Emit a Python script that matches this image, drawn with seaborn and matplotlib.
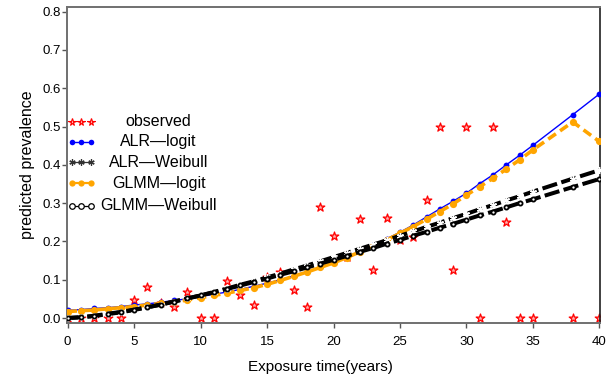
import matplotlib
matplotlib.use("Agg")
import matplotlib.pyplot as plt
import seaborn as sns
import pandas as pd

# ---------------- data ----------------
times = [0, 1, 2, 3, 4, 5, 6, 7, 8, 9, 10, 11, 12, 13, 14, 15, 16, 17, 18, 19,
         20, 21, 22, 23, 24, 25, 26, 27, 28, 29, 30, 31, 32, 33, 34, 35, 38, 40]

observed = [0.0, 0.0, 0.0, 0.0, 0.0, 0.048, 0.080, 0.040, 0.028, 0.069,
            0.0, 0.0, 0.097, 0.060, 0.034, 0.108, 0.120, 0.073, 0.028, 0.290,
            0.214, 0.160, 0.258, 0.125, 0.260, 0.205, 0.212, 0.308, 0.500, 0.125,
            0.500, 0.0, 0.500, 0.250, 0.0, 0.0, 0.0, 0.0]

alr_logit = [0.020, 0.022, 0.025, 0.027, 0.030, 0.034, 0.037, 0.041, 0.046, 0.050,
             0.056, 0.062, 0.068, 0.075, 0.083, 0.091, 0.100, 0.110, 0.121, 0.133,
             0.146, 0.159, 0.174, 0.190, 0.207, 0.224, 0.243, 0.264, 0.285, 0.305,
             0.326, 0.351, 0.374, 0.400, 0.425, 0.451, 0.531, 0.585]

alr_weibull = [0.000, 0.002, 0.005, 0.010, 0.015, 0.021, 0.028, 0.035, 0.043, 0.051,
               0.059, 0.068, 0.077, 0.087, 0.096, 0.106, 0.116, 0.127, 0.137, 0.148,
               0.159, 0.170, 0.181, 0.192, 0.203, 0.215, 0.226, 0.238, 0.249, 0.261,
               0.272, 0.284, 0.295, 0.307, 0.318, 0.330, 0.364, 0.386]

glmm_logit = [0.017, 0.019, 0.021, 0.024, 0.027, 0.030, 0.034, 0.038, 0.042, 0.047,
              0.053, 0.059, 0.065, 0.072, 0.079, 0.088, 0.098, 0.109, 0.120, 0.132,
              0.144, 0.158, 0.173, 0.188, 0.204, 0.221, 0.239, 0.258, 0.278, 0.298,
              0.321, 0.343, 0.365, 0.389, 0.413, 0.439, 0.512, 0.461]

glmm_weibull = [0.000, 0.002, 0.006, 0.011, 0.016, 0.022, 0.028, 0.035, 0.043, 0.051,
                0.059, 0.067, 0.076, 0.085, 0.094, 0.103, 0.113, 0.122, 0.132, 0.142,
                0.152, 0.162, 0.173, 0.183, 0.194, 0.204, 0.215, 0.225, 0.236, 0.246,
                0.257, 0.268, 0.278, 0.289, 0.300, 0.310, 0.342, 0.363]

legend_labels = ["observed", "ALR\u2014logit", "ALR\u2014Weibull",
                 "GLMM\u2014logit", "GLMM\u2014Weibull"]
x_ticks = [0, 5, 10, 15, 20, 25, 30, 35, 40]
y_ticks = [0.0, 0.1, 0.2, 0.3, 0.4, 0.5, 0.6, 0.7, 0.8]
x_label = "Exposure time(years)"
y_label = "predicted prevalence"

df = pd.DataFrame({"t": times, "obs": observed, "alr_logit": alr_logit,
                   "alr_weibull": alr_weibull, "glmm_logit": glmm_logit,
                   "glmm_weibull": glmm_weibull})

# ---------------- style ----------------
sns.set_theme(style="white")
plt.rcParams["font.family"] = ["Liberation Sans", "DejaVu Sans"]

fig = plt.figure(figsize=(6.11, 3.85), dpi=100)
ax = fig.add_axes([67 / 611, 62 / 385, 533 / 611, 316.3 / 385])

RED = "#ff0000"
BLUE = "#0000ff"
ORANGE = "#ffa500"

# observed stars
sns.scatterplot(data=df, x="t", y="obs", ax=ax, marker="*", s=42,
                facecolor="#ffb0b0", edgecolor=RED, linewidth=0.9, zorder=2)

# ALR-logit: blue solid with filled circles
sns.lineplot(data=df, x="t", y="alr_logit", ax=ax, color=BLUE, linewidth=1.0,
             marker="o", markersize=4.2, markeredgewidth=0, zorder=3)

# GLMM-logit: orange dashed with filled circles
sns.lineplot(data=df, x="t", y="glmm_logit", ax=ax, color=ORANGE, linewidth=2.6,
             linestyle=(0, (2.6, 1.4)), marker="o", markersize=5.2,
             markeredgewidth=0, zorder=4)

# ALR-Weibull: black dashed with asterisks
sns.lineplot(data=df, x="t", y="alr_weibull", ax=ax, color="black", linewidth=2.9,
             linestyle=(0, (3.8, 1.1)), marker=(6, 2, 0), markersize=5,
             markeredgewidth=1.0, zorder=5)

# GLMM-Weibull: black dashed with small open circles
sns.lineplot(data=df, x="t", y="glmm_weibull", ax=ax, color="black", linewidth=2.9,
             linestyle=(0, (3.8, 1.1)), marker="o", markersize=3.0,
             markerfacecolor="white", markeredgecolor="black",
             markeredgewidth=1.3, zorder=6)

# ---------------- axes ----------------
ax.set_xlim(-0.05, 40.05)
ax.set_ylim(-0.013, 0.813)
ax.set_xticks(x_ticks)
ax.set_xticklabels([str(v) for v in x_ticks])
ax.set_yticks(y_ticks)
ax.set_yticklabels([f"{v:.1f}" for v in y_ticks])
ax.tick_params(axis="both", which="major", direction="out", length=3.5,
               width=1.0, color="#555555", labelsize=9.5, labelcolor="black",
               left=True, bottom=True)
ax.tick_params(axis="y", pad=1)
ax.tick_params(axis="x", pad=6)

for side in ["left", "top", "bottom"]:
    ax.spines[side].set_color("#707070")
    ax.spines[side].set_linewidth(1.4)
ax.spines["right"].set_color("#202020")
ax.spines["right"].set_linewidth(1.2)

ax.set_xlabel(x_label, fontsize=11, color="black")
ax.set_ylabel(y_label, fontsize=11.5, color="black")
ax.xaxis.set_label_coords(0.475, -0.117)
ax.yaxis.set_label_coords(-0.06, 0.5)
ax.xaxis.label.set_va("top")

# ---------------- manual legend ----------------
row_y = [0.636, 0.573, 0.508, 0.442, 0.370]
mx = [0.0088, 0.0257, 0.0445]
text_x = 0.172
tr = ax.transAxes

styles = [
    dict(color=RED, linestyle="none", marker="*", markersize=5.5,
         markerfacecolor="#ffb0b0", markeredgecolor=RED, markeredgewidth=0.8),
    dict(color=BLUE, linestyle="-", linewidth=1.0, marker="o", markersize=4,
         markeredgewidth=0),
    dict(color="#333333", linestyle="-", linewidth=0.9, marker=(6, 2, 0),
         markersize=4.5, markeredgewidth=0.9),
    dict(color=ORANGE, linestyle="-", linewidth=1.6, marker="o", markersize=4.5,
         markeredgewidth=0),
    dict(color="black", linestyle="-", linewidth=0.9, marker="o", markersize=4,
         markerfacecolor="white", markeredgecolor="black", markeredgewidth=0.9),
]
for ry, lab, st in zip(row_y, legend_labels, styles):
    ax.plot(mx, [ry] * 3, transform=tr, clip_on=False, zorder=10, **st)
    ax.text(text_x, ry, lab, transform=tr, ha="center", va="center",
            fontsize=11.5, color="black", zorder=10)

fig.savefig("out.png", dpi=100)
